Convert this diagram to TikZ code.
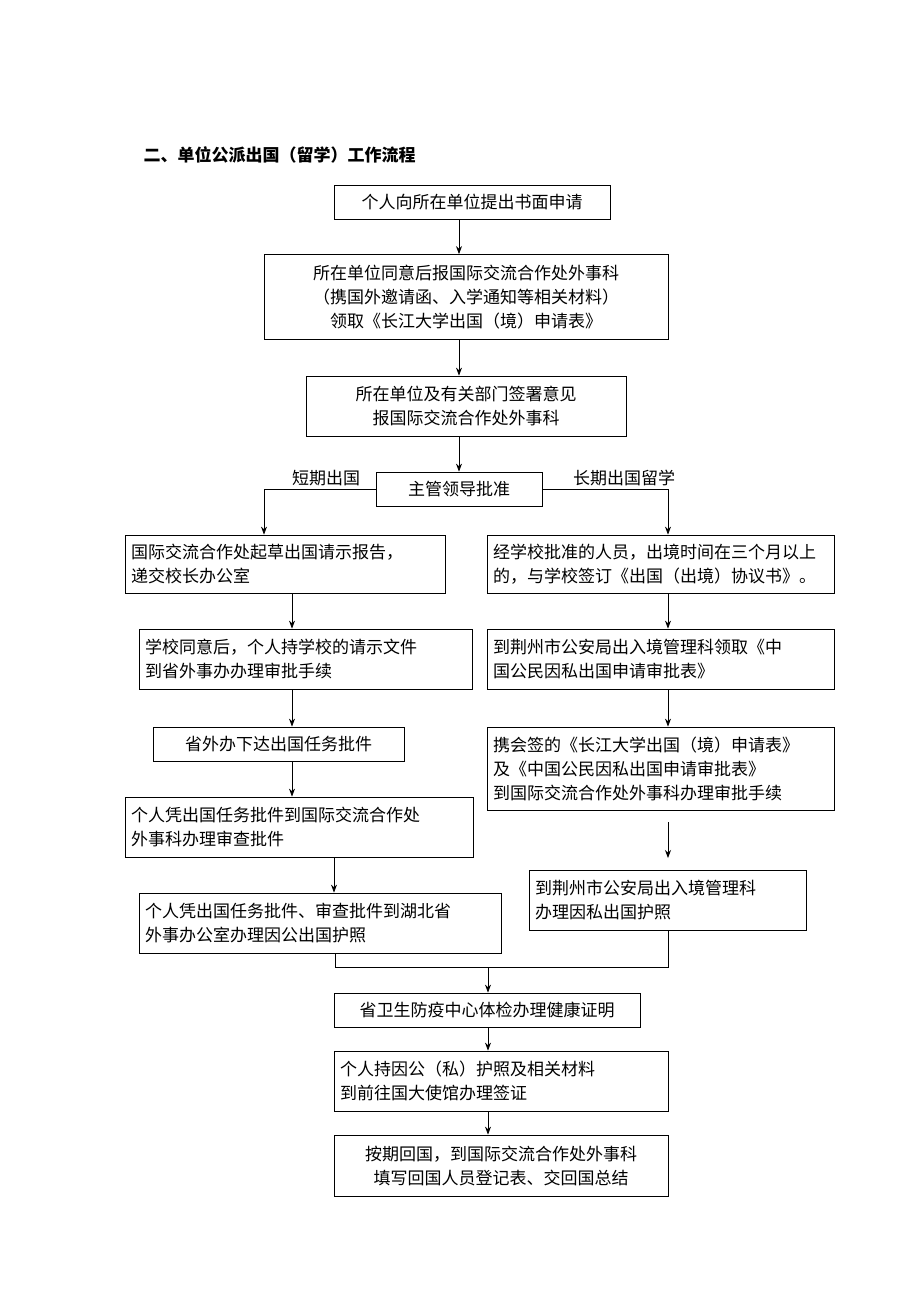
\documentclass[tikz,border=0pt]{standalone}
\usepackage{fontspec}
\setmainfont{Noto Sans CJK SC}
\usetikzlibrary{arrows.meta}
\begin{document}
\begin{tikzpicture}[x=1pt,y=-1pt,
    box/.style={draw,thick,inner sep=0pt,font=\fontsize{17}{24}\selectfont},
    lbox/.style={box,align=left},
    cbox/.style={box,align=center},
    link/.style={thick,-{Stealth[length=8pt,width=6pt]}},
    lab/.style={font=\fontsize{17}{22}\selectfont}
  ]
  \useasboundingbox (0,0) rectangle (920,1302);
  \node[anchor=west,font=\bfseries\fontsize{17}{22}\selectfont] (title) at (140,155) {二、单位公派出国（留学）工作流程};

  % main column
  \node[cbox,minimum width=276,minimum height=34] (apply) at (472,202) {个人向所在单位提出书面申请};
  \node[cbox,minimum width=404,minimum height=85] (report) at (466,297) {所在单位同意后报国际交流合作处外事科\\（携国外邀请函、入学通知等相关材料）\\领取《长江大学出国（境）申请表》};
  \node[cbox,minimum width=320,minimum height=60] (sign) at (466,406) {所在单位及有关部门签署意见\\报国际交流合作处外事科};
  \node[cbox,minimum width=166,minimum height=34] (leader) at (459,489) {主管领导批准};
  \node[lab] (short) at (326,478) {短期出国};
  \node[lab] (long) at (624,478) {长期出国留学};

  % short term
  \node[lbox,minimum width=320,minimum height=58,text width=308] (l1) at (285,564) {国际交流合作处起草出国请示报告，\\递交校长办公室};
  \node[lbox,minimum width=333,minimum height=60,text width=321] (l2) at (305.5,659) {学校同意后，个人持学校的请示文件\\到省外事办办理审批手续};
  \node[cbox,minimum width=251,minimum height=34] (l3) at (278.5,744) {省外办下达出国任务批件};
  \node[lbox,minimum width=348,minimum height=60,text width=336] (l4) at (299,827) {个人凭出国任务批件到国际交流合作处\\外事科办理审查批件};
  \node[lbox,minimum width=362,minimum height=60,text width=350] (l5) at (320,923) {个人凭出国任务批件、审查批件到湖北省\\外事办公室办理因公出国护照};

  % long term
  \node[lbox,minimum width=347,minimum height=58,text width=335] (r1) at (660.5,564) {经学校批准的人员，出境时间在三个月以上\\的，与学校签订《出国（出境）协议书》。};
  \node[lbox,minimum width=347,minimum height=60,text width=335] (r2) at (660.5,659) {到荆州市公安局出入境管理科领取《中\\国公民因私出国申请审批表》};
  \node[lbox,minimum width=347,minimum height=83,text width=335] (r3) at (660.5,768.5) {携会签的《长江大学出国（境）申请表》\\及《中国公民因私出国申请审批表》\\到国际交流合作处外事科办理审批手续};
  \node[lbox,minimum width=277,minimum height=60,text width=265] (r4) at (667.5,900) {到荆州市公安局出入境管理科\\办理因私出国护照};

  % common
  \node[cbox,minimum width=306,minimum height=34] (health) at (487,1010) {省卫生防疫中心体检办理健康证明};
  \node[lbox,minimum width=334,minimum height=60,text width=322] (visa) at (501,1081) {个人持因公（私）护照及相关材料\\到前往国大使馆办理签证};
  \node[cbox,minimum width=334,minimum height=61] (back) at (501,1165.5) {按期回国，到国际交流合作处外事科\\填写回国人员登记表、交回国总结};

  \coordinate (gapTop) at (668,822);
  \coordinate (gapEnd) at (668,858);
  \coordinate (merge) at (488,967);

  \draw[link] (apply.south -| 459,0) -- (report.north -| 459,0);
  \draw[link] (report.south -| 459,0) -- (sign.north -| 459,0);
  \draw[link] (sign.south -| 459,0) -- (leader.north -| 459,0);
  \draw[link] (leader.west) -| (l1.north -| 264,0);
  \draw[link] (leader.east) -| (r1.north -| 668,0);
  \draw[link] (l1.south -| 292,0) -- (l2.north -| 292,0);
  \draw[link] (l2.south -| 292,0) -- (l3.north -| 292,0);
  \draw[link] (l3.south -| 292,0) -- (l4.north -| 292,0);
  \draw[link] (l4.south -| 334,0) -- (l5.north -| 334,0);
  \draw[link] (r1.south -| 668,0) -- (r2.north -| 668,0);
  \draw[link] (r2.south -| 668,0) -- (r3.north -| 668,0);
  \draw[link] (gapTop) -- (gapEnd);
  \draw[thick] (l5.south -| 335,0) |- (merge) -| (r4.south -| 668,0);
  \draw[link] (merge) -- (health.north -| merge);
  \draw[link] (health.south -| 488,0) -- (visa.north -| 488,0);
  \draw[link] (visa.south -| 488,0) -- (back.north -| 488,0);
\end{tikzpicture}
\end{document}
